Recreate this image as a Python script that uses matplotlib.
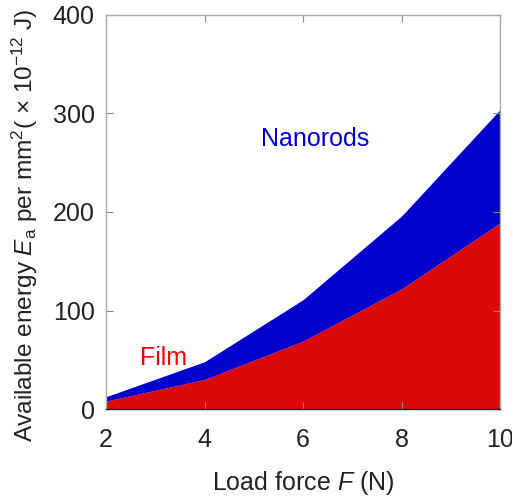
import matplotlib
matplotlib.use("Agg")
import matplotlib.pyplot as plt

plt.rcParams["font.family"] = ["Liberation Sans", "DejaVu Sans"]
plt.rcParams["mathtext.fontset"] = "custom"
plt.rcParams["mathtext.rm"] = "Liberation Sans"
plt.rcParams["mathtext.it"] = "Liberation Sans:italic"

load_force = [2, 4, 6, 8, 10]
film_energy = [8, 30, 69, 122, 189]
nanorods_energy = [12.5, 48, 111, 196, 304]

x_ticks = [2, 4, 6, 8, 10]
y_ticks = [0, 100, 200, 300, 400]

fig = plt.figure(figsize=(5.12, 4.97), dpi=100)
ax = fig.add_axes([0.207, 0.177, 0.770, 0.793])

ax.fill_between(load_force, 0, film_energy, color="#DD0808", linewidth=0)
ax.fill_between(load_force, film_energy, nanorods_energy, color="#0000CC", linewidth=0)

ax.set_xlim(2, 10)
ax.set_ylim(0, 400)
ax.set_xticks(x_ticks)
ax.set_yticks(y_ticks)

for s in ax.spines.values():
    s.set_color("#AAAAAA")
    s.set_linewidth(1.0)
ax.spines["bottom"].set_color("#222222")
ax.tick_params(direction="in", top=True, right=True, length=5, width=0.8,
               color="#888888", labelsize=18, labelcolor="#222222")
ax.tick_params(axis="x", pad=14)
ax.tick_params(axis="y", pad=8)

ax.set_xlabel("Load force $\\mathit{F}$ (N)", fontsize=18, color="#222222", labelpad=12)
ax.set_ylabel("Available energy $\\mathit{E}_{\\mathrm{a}}$ per mm$^{2}$( × 10$^{-12}$ J)",
              fontsize=17.6, color="#222222")
ax.yaxis.set_label_coords(-0.167, 0.466)

ax.text(6.25, 274, "Nanorods", color="#0000DD", fontsize=18, ha="center", va="center")
ax.text(3.17, 52, "Film", color="#FF0000", fontsize=18, ha="center", va="center")

fig.savefig("out.png", dpi=100)
